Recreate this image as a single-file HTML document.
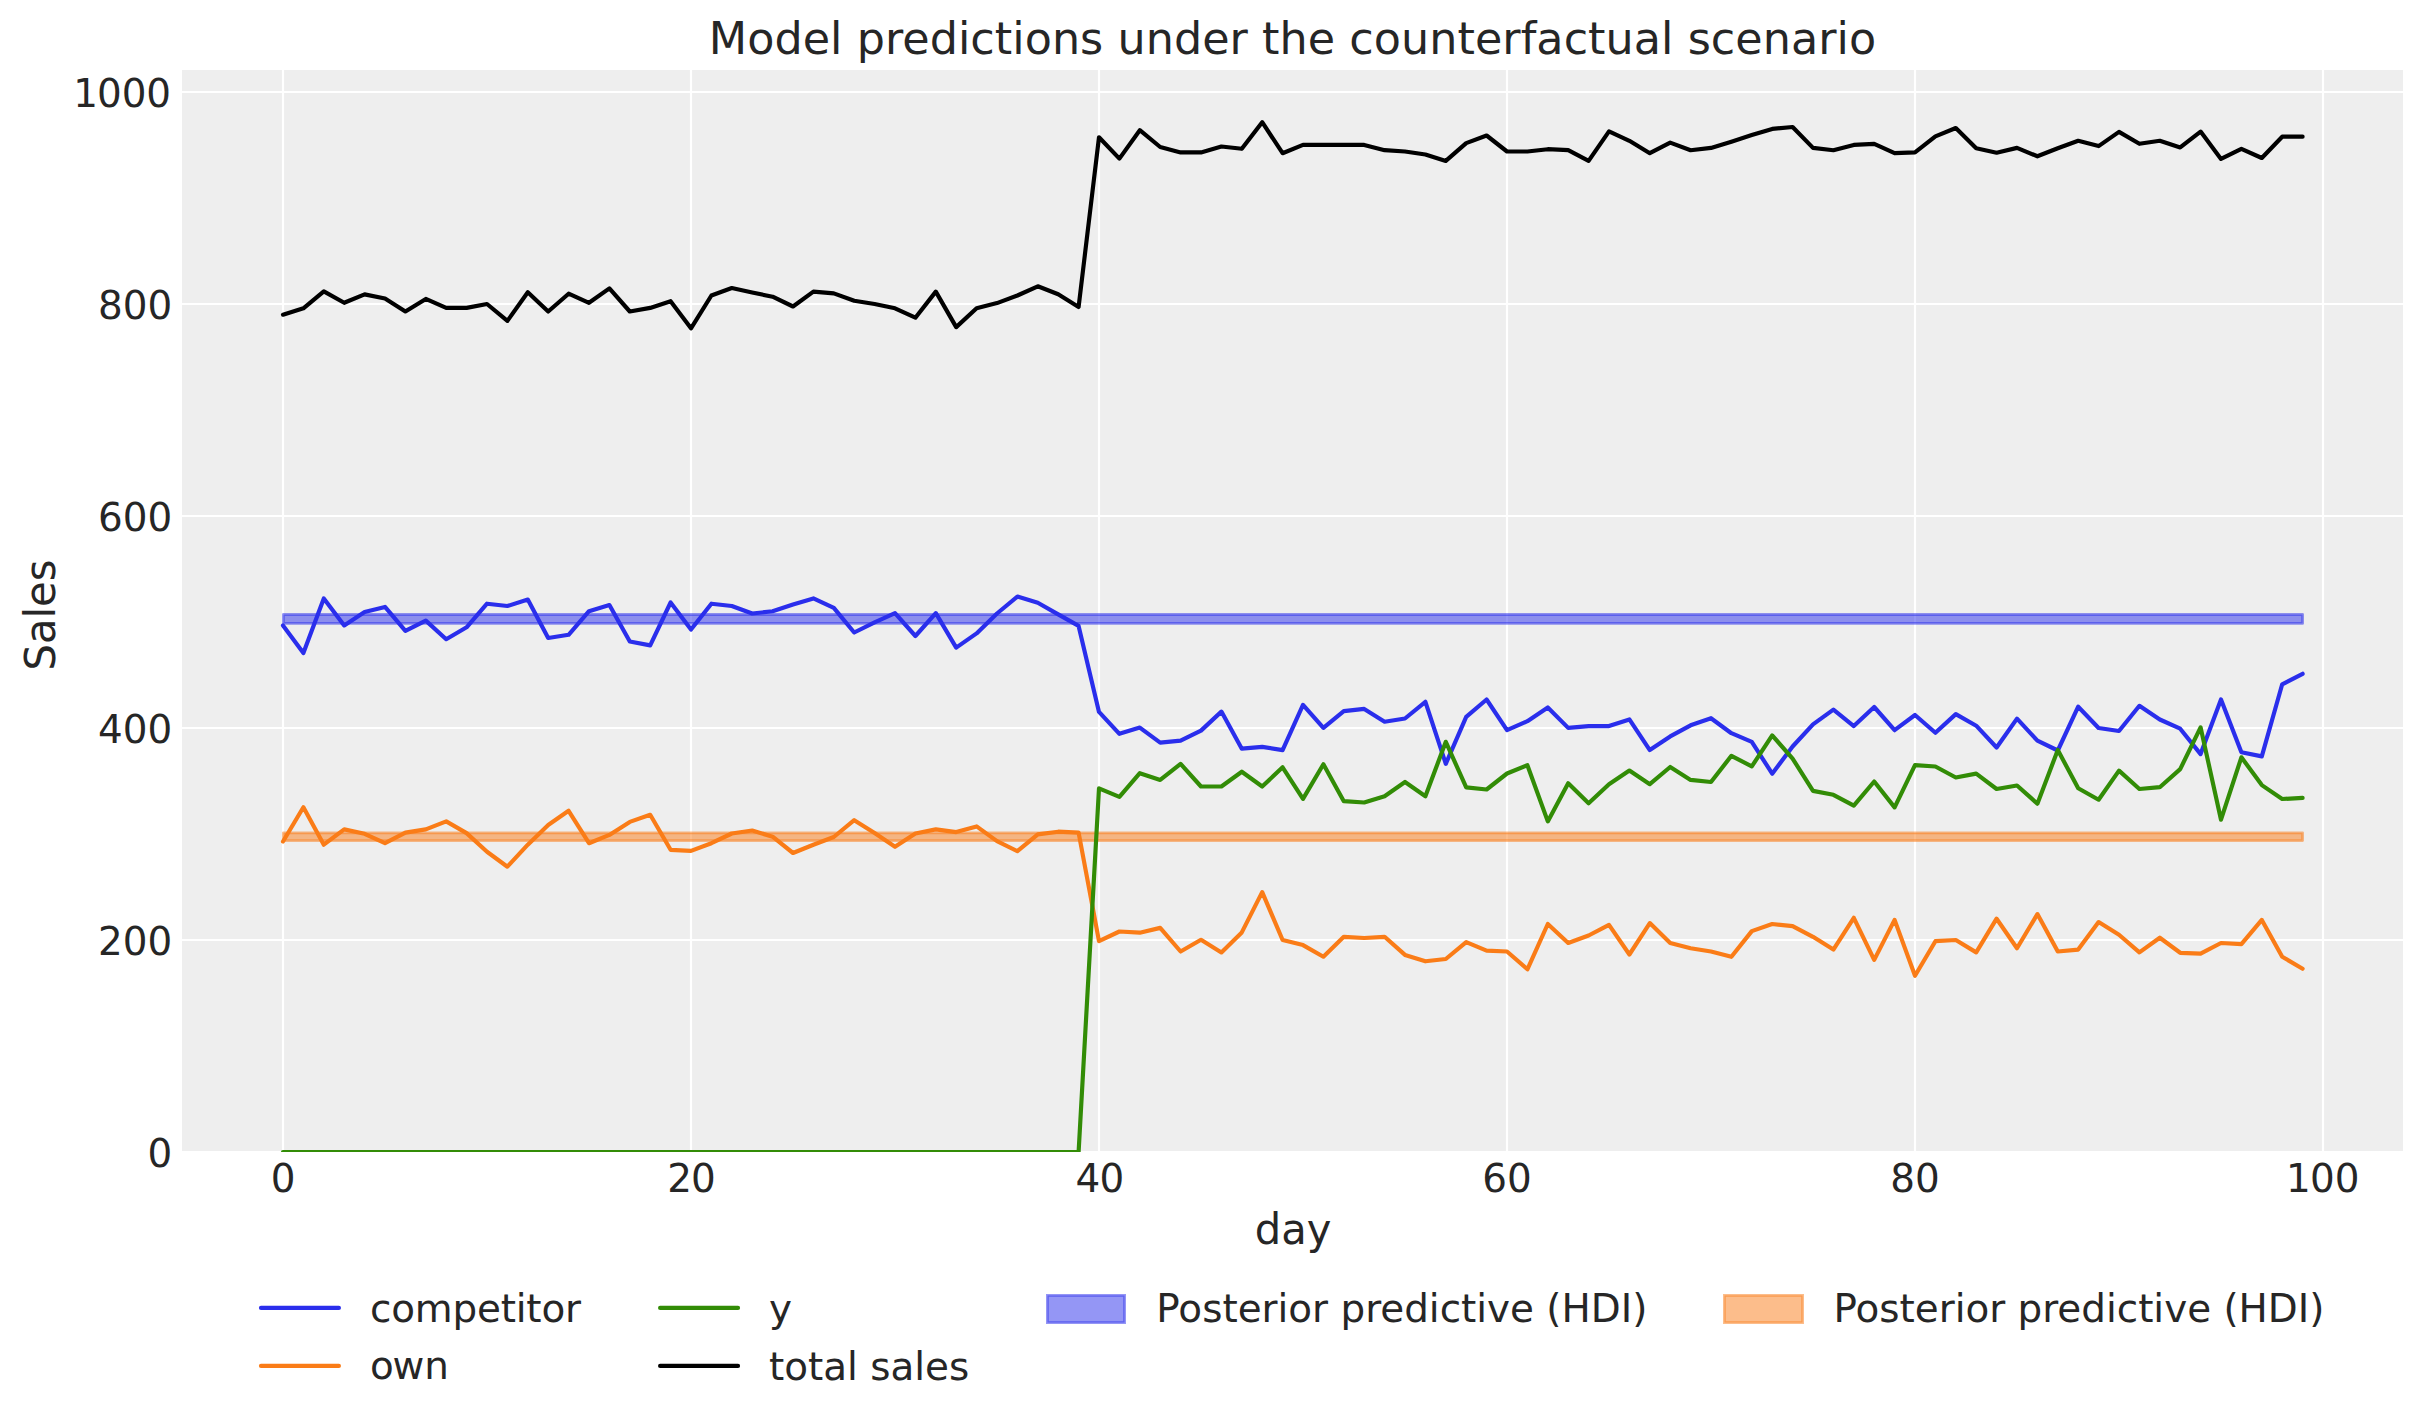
<!DOCTYPE html>
<html lang="en"><head><meta charset="utf-8"><title>Model predictions under the counterfactual scenario</title>
<style>
html,body{margin:0;padding:0;background:#fff;}
body{width:2423px;height:1423px;overflow:hidden;}
svg{display:block;}
text{font-family:'DejaVu Sans','Liberation Sans',sans-serif;fill:#262626;}
.tick{font-size:38.89px;}
.ttl{font-size:44.44px;letter-spacing:0.05px;}
.lab{font-size:41.67px;}
.leg{font-size:38.89px;}
.ln{fill:none;stroke-width:4.17;stroke-linecap:round;stroke-linejoin:round;}
.grid{stroke:#fff;stroke-width:2.2;}
</style></head><body>
<svg width="2423" height="1423" viewBox="0 0 2423 1423">
<defs><clipPath id="ax"><rect x="182.0" y="70.0" width="2221.0" height="1082.0"/></clipPath></defs>
<rect x="0" y="0" width="2423" height="1423" fill="#fff"/>
<rect x="182.0" y="70.0" width="2221.0" height="1082.0" fill="#eeeeee"/>
<g clip-path="url(#ax)">
<line class="grid" x1="283.0" y1="70.0" x2="283.0" y2="1152.0"/>
<line class="grid" x1="691.0" y1="70.0" x2="691.0" y2="1152.0"/>
<line class="grid" x1="1099.0" y1="70.0" x2="1099.0" y2="1152.0"/>
<line class="grid" x1="1507.0" y1="70.0" x2="1507.0" y2="1152.0"/>
<line class="grid" x1="1915.0" y1="70.0" x2="1915.0" y2="1152.0"/>
<line class="grid" x1="2323.0" y1="70.0" x2="2323.0" y2="1152.0"/>
<line class="grid" x1="182.0" y1="1152.0" x2="2403.0" y2="1152.0"/>
<line class="grid" x1="182.0" y1="940.0" x2="2403.0" y2="940.0"/>
<line class="grid" x1="182.0" y1="728.0" x2="2403.0" y2="728.0"/>
<line class="grid" x1="182.0" y1="516.0" x2="2403.0" y2="516.0"/>
<line class="grid" x1="182.0" y1="304.0" x2="2403.0" y2="304.0"/>
<line class="grid" x1="182.0" y1="92.0" x2="2403.0" y2="92.0"/>
<rect x="283.4" y="614.5" width="2019.2" height="8.9" fill="#2a2eec" fill-opacity="0.5" stroke="#2a2eec" stroke-opacity="0.5" stroke-width="2.78" stroke-linejoin="round"/>
<rect x="283.4" y="832.8" width="2019.2" height="7.8" fill="#fa7c17" fill-opacity="0.5" stroke="#fa7c17" stroke-opacity="0.5" stroke-width="2.78" stroke-linejoin="round"/>
<polyline class="ln" stroke="#2a2eec" points="283.0,625.4 303.4,653.1 323.8,598.4 344.2,625.4 364.6,612.1 385.0,606.9 405.4,630.9 425.8,620.6 446.2,639.2 466.6,627.3 487.0,603.7 507.4,606.0 527.8,599.6 548.2,638.0 568.6,634.8 589.0,611.2 609.4,605.0 629.8,641.5 650.2,645.4 670.6,602.5 691.0,629.5 711.4,603.7 731.8,606.0 752.2,613.5 772.6,611.3 793.0,604.6 813.4,598.4 833.8,607.8 854.2,632.5 874.6,622.4 895.0,613.1 915.4,636.0 935.8,613.1 956.2,647.6 976.6,633.4 997.0,613.5 1017.4,596.6 1037.8,602.8 1058.2,614.4 1078.6,625.9 1099.0,711.9 1119.4,733.8 1139.8,727.6 1160.2,742.6 1180.6,740.7 1201.0,730.6 1221.4,711.6 1241.8,748.7 1262.2,746.9 1282.6,750.1 1303.0,704.8 1323.4,727.9 1343.8,711.1 1364.2,708.9 1384.6,721.7 1405.0,718.5 1425.4,701.8 1445.8,763.8 1466.2,716.9 1486.6,699.5 1507.0,730.2 1527.4,721.2 1547.8,707.5 1568.2,727.9 1588.6,726.1 1609.0,726.1 1629.4,719.4 1649.8,750.1 1670.2,736.4 1690.6,725.3 1711.0,718.2 1731.4,733.2 1751.8,741.8 1772.2,773.7 1792.6,746.5 1813.0,724.4 1833.4,709.6 1853.8,726.1 1874.2,707.0 1894.6,730.2 1915.0,715.0 1935.4,732.8 1955.8,714.1 1976.2,725.7 1996.6,747.5 2017.0,718.6 2037.4,740.7 2057.8,750.5 2078.2,706.7 2098.6,728.0 2119.0,731.0 2139.4,705.8 2159.8,719.5 2180.2,728.7 2200.6,754.1 2221.0,699.4 2241.4,752.3 2261.8,756.4 2282.2,684.3 2302.6,673.8"/>
<polyline class="ln" stroke="#fa7c17" points="283.0,841.5 303.4,807.2 323.8,844.7 344.2,829.4 364.6,833.8 385.0,843.2 405.4,832.6 425.8,829.4 446.2,821.4 466.6,833.1 487.0,851.8 507.4,866.7 527.8,844.7 548.2,825.0 568.6,810.8 589.0,843.2 609.4,834.9 629.8,821.9 650.2,814.8 670.6,849.8 691.0,850.9 711.4,843.2 731.8,833.5 752.2,830.5 772.6,836.7 793.0,853.0 813.4,844.7 833.8,837.0 854.2,820.2 874.6,833.1 895.0,846.8 915.4,833.5 935.8,829.4 956.2,832.1 976.6,826.4 997.0,841.1 1017.4,851.2 1037.8,834.4 1058.2,831.7 1078.6,832.6 1099.0,941.2 1119.4,931.5 1139.8,932.7 1160.2,927.9 1180.6,951.5 1201.0,939.8 1221.4,952.4 1241.8,932.4 1262.2,892.1 1282.6,940.0 1303.0,945.1 1323.4,956.7 1343.8,936.8 1364.2,938.0 1384.6,936.8 1405.0,954.9 1425.4,961.3 1445.8,959.0 1466.2,942.1 1486.6,950.6 1507.0,951.5 1527.4,969.3 1547.8,924.0 1568.2,943.0 1588.6,935.5 1609.0,924.9 1629.4,954.5 1649.8,923.1 1670.2,943.0 1690.6,948.3 1711.0,951.5 1731.4,956.8 1751.8,931.1 1772.2,924.0 1792.6,926.1 1813.0,936.8 1833.4,949.6 1853.8,917.8 1874.2,959.9 1894.6,919.9 1915.0,975.8 1935.4,941.2 1955.8,940.0 1976.2,952.4 1996.6,918.7 2017.0,948.3 2037.4,914.1 2057.8,951.5 2078.2,949.6 2098.6,922.1 2119.0,934.7 2139.4,952.4 2159.8,937.7 2180.2,952.8 2200.6,953.6 2221.0,943.0 2241.4,944.2 2261.8,919.9 2282.2,956.8 2302.6,968.7"/>
<polyline class="ln" stroke="#328c06" points="283.0,1152.0 1078.6,1152.0 1099.0,788.3 1119.4,796.8 1139.8,773.2 1160.2,779.9 1180.6,763.9 1201.0,786.5 1221.4,786.5 1241.8,771.7 1262.2,786.5 1282.6,767.3 1303.0,798.9 1323.4,764.3 1343.8,801.2 1364.2,802.5 1384.6,796.2 1405.0,782.0 1425.4,796.2 1445.8,741.8 1466.2,787.4 1486.6,789.5 1507.0,773.5 1527.4,765.2 1547.8,821.4 1568.2,783.3 1588.6,803.3 1609.0,784.3 1629.4,770.5 1649.8,784.2 1670.2,767.0 1690.6,779.9 1711.0,782.0 1731.4,755.8 1751.8,766.4 1772.2,735.4 1792.6,758.6 1813.0,790.9 1833.4,794.8 1853.8,805.6 1874.2,781.5 1894.6,807.4 1915.0,765.2 1935.4,766.5 1955.8,777.5 1976.2,773.6 1996.6,789.0 2017.0,785.5 2037.4,803.7 2057.8,750.0 2078.2,788.3 2098.6,799.7 2119.0,770.6 2139.4,789.0 2159.8,787.2 2180.2,769.1 2200.6,727.4 2221.0,819.7 2241.4,757.3 2261.8,785.1 2282.2,799.0 2302.6,797.9"/>
<polyline class="ln" stroke="#000000" points="283.0,314.7 303.4,308.3 323.8,291.4 344.2,302.8 364.6,294.4 385.0,298.5 405.4,311.5 425.8,298.9 446.2,307.9 466.6,307.9 487.0,304.0 507.4,320.9 527.8,292.3 548.2,311.5 568.6,293.7 589.0,302.8 609.4,288.4 629.8,311.5 650.2,307.9 670.6,301.2 691.0,328.3 711.4,295.5 731.8,288.0 752.2,292.5 772.6,296.7 793.0,306.5 813.4,291.6 833.8,293.4 854.2,300.8 874.6,304.0 895.0,308.3 915.4,317.7 935.8,291.6 956.2,327.1 976.6,308.3 997.0,303.1 1017.4,295.5 1037.8,286.3 1058.2,294.3 1078.6,307.0 1099.0,137.3 1119.4,158.6 1139.8,130.2 1160.2,147.0 1180.6,152.4 1201.0,152.4 1221.4,146.5 1241.8,148.8 1262.2,122.2 1282.6,153.2 1303.0,144.9 1323.4,144.9 1343.8,144.9 1364.2,144.9 1384.6,150.2 1405.0,151.5 1425.4,154.5 1445.8,160.9 1466.2,143.1 1486.6,135.5 1507.0,151.5 1527.4,151.5 1547.8,149.2 1568.2,150.2 1588.6,160.9 1609.0,131.4 1629.4,140.8 1649.8,153.2 1670.2,142.6 1690.6,150.2 1711.0,147.9 1731.4,141.7 1751.8,135.1 1772.2,128.9 1792.6,127.0 1813.0,147.9 1833.4,150.2 1853.8,144.9 1874.2,143.8 1894.6,153.2 1915.0,152.4 1935.4,136.4 1955.8,128.0 1976.2,148.3 1996.6,152.7 2017.0,147.9 2037.4,156.3 2057.8,148.3 2078.2,140.8 2098.6,146.1 2119.0,131.9 2139.4,143.8 2159.8,140.8 2180.2,147.4 2200.6,131.6 2221.0,158.9 2241.4,148.8 2261.8,158.0 2282.2,136.7 2302.6,136.7"/>
</g>
<text class="tick" x="283.00" y="1191.6" text-anchor="middle">0</text>
<text class="tick" x="691.00" y="1191.6" text-anchor="middle" dx="0.5 -0.8">20</text>
<text class="tick" x="1099.00" y="1191.6" text-anchor="middle" dx="0.9 -0.9">40</text>
<text class="tick" x="1507.00" y="1191.6" text-anchor="middle">60</text>
<text class="tick" x="1915.00" y="1191.6" text-anchor="middle">80</text>
<text class="tick" x="2322.65" y="1191.6" text-anchor="middle" dx="0 -0.7 0">100</text>
<text class="tick" x="172.2" y="1167.2" text-anchor="end">0</text>
<text class="tick" x="172.2" y="955.2" text-anchor="end">200</text>
<text class="tick" x="172.2" y="743.2" text-anchor="end">400</text>
<text class="tick" x="172.2" y="531.2" text-anchor="end">600</text>
<text class="tick" x="172.2" y="319.2" text-anchor="end">800</text>
<text class="tick" x="171.1" y="107.2" text-anchor="end" dx="0 -1.1 0 0">1000</text>
<text class="ttl" x="1292.5" y="54" text-anchor="middle">Model predictions under the counterfactual scenario</text>
<text class="lab" transform="translate(1293.0,1243.8) scale(1,1.03)" text-anchor="middle">day</text>
<text class="lab" transform="translate(55.1,615.0) rotate(-90) scale(1,1.03)" text-anchor="middle">Sales</text>
<line class="ln" stroke="#2a2eec" x1="261.0" y1="1307.9" x2="338.9" y2="1307.9"/><text class="leg" x="370.1" y="1321.8" letter-spacing="-0.2">competitor</text>
<line class="ln" stroke="#fa7c17" x1="261.0" y1="1365.9" x2="338.9" y2="1365.9"/><text class="leg" x="370.1" y="1379.2" dx="0 -1.4 0">own</text>
<line class="ln" stroke="#328c06" x1="660.1" y1="1307.9" x2="738.0" y2="1307.9"/><text class="leg" x="768.9" y="1321.8">y</text>
<line class="ln" stroke="#000000" x1="660.1" y1="1365.9" x2="738.0" y2="1365.9"/><text class="leg" x="768.9" y="1380.0">total sales</text>
<rect x="1047.4" y="1295.4" width="77.2" height="27.2" fill="#2a2eec" fill-opacity="0.5" stroke="#2a2eec" stroke-opacity="0.5" stroke-width="2.78"/><text class="leg" x="1156.3" y="1322.0">Posterior predictive (HDI)</text>
<rect x="1724.4" y="1295.4" width="78.2" height="27.2" fill="#fa7c17" fill-opacity="0.5" stroke="#fa7c17" stroke-opacity="0.5" stroke-width="2.78"/><text class="leg" x="1833.4" y="1322.0">Posterior predictive (HDI)</text>
</svg></body></html>
